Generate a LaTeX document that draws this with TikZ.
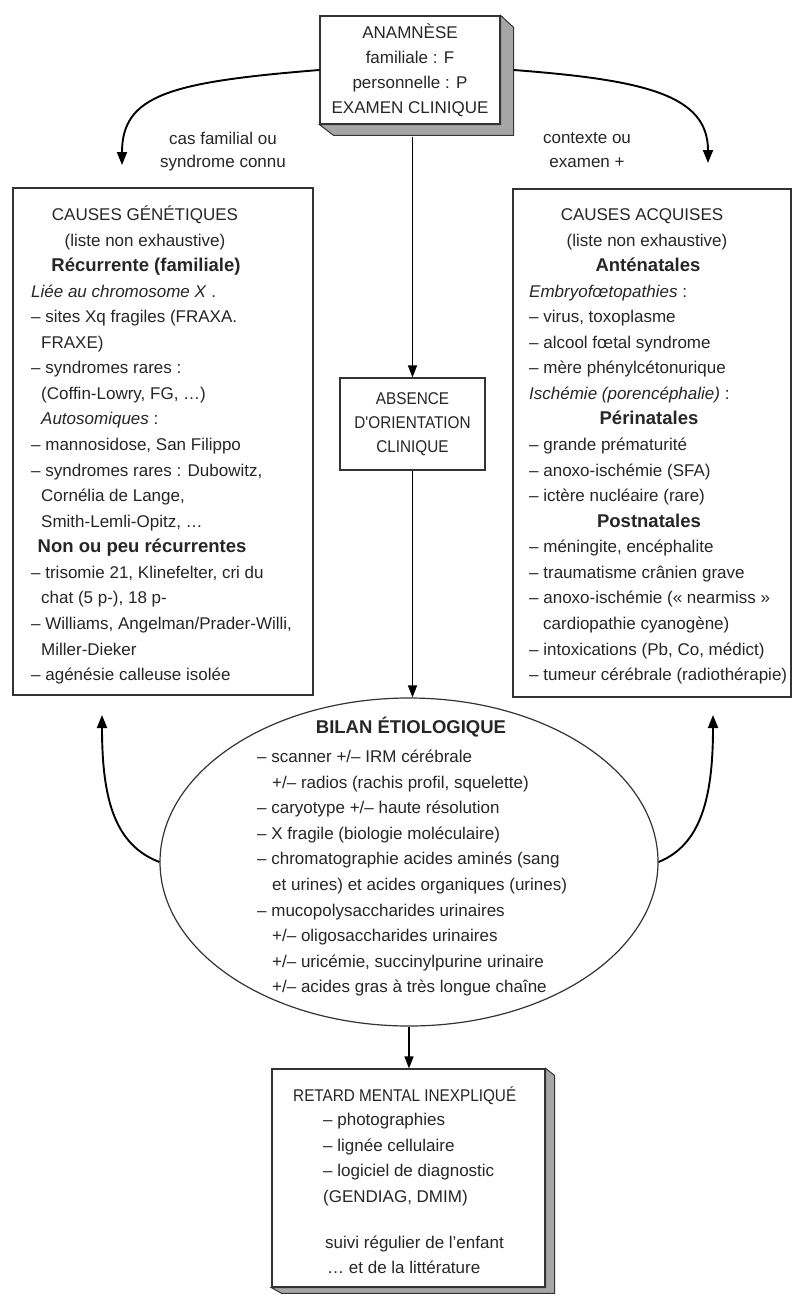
\documentclass[tikz,border=0pt]{standalone}
\usepackage{fontspec}
\setmainfont{Liberation Sans}
\newfontfamily\narrowfont{Liberation Sans}[FakeStretch=0.9]
\usetikzlibrary{arrows.meta,shapes.geometric}
\newcommand\headline[1]{{\fontsize{18.5}{20}\selectfont\bfseries #1}}

\begin{document}
\begin{tikzpicture}[x=1pt,y=-1pt,
  txt/.style={inner sep=0pt, font=\fontsize{17}{20}\selectfont, text=black!85},
  frame/.style={draw=black!80, line width=1.4pt, fill=white, inner sep=0pt},
  face/.style={draw=black!80, line width=1.2pt, fill=white, inner sep=0pt},
  side/.style={draw=black!80, line width=1pt, fill=black!35},
  link/.style={draw=black, line width=1.9pt, -{Triangle[length=13pt,width=10pt]}},
  flow/.style={draw=black, line width=1.5pt, -{Triangle[length=12pt,width=9pt]}},
]
\useasboundingbox (0,0) rectangle (794,1295);
\fill[white] (0,0) rectangle (794,1295);

% ---------- top box: history and clinical examination ----------
\node[face, minimum width=180pt, minimum height=108pt, align=center,
      font=\fontsize{17}{25}\selectfont, text=black!85] (ana) at (410,70)
  {ANAMNÈSE\\familiale : F\\personnelle : P\\EXAMEN CLINIQUE};
\filldraw[side] (ana.north east) -- ++(13,12) -- ++(0,108) -- ++(-180,0)
  -- (ana.south west) -- (ana.south east) -- cycle;

% ---------- the two cause boxes ----------
\node[frame, minimum width=300pt, minimum height=507pt] (gen) at (163,441.5) {};
\node[frame, minimum width=278pt, minimum height=508pt] (acq) at (652,443) {};

\foreach \a/\xx/\k/\s in {
  base/145/0/{CAUSES GÉNÉTIQUES},
  base/145/1/{(liste non exhaustive)},
  base/146/2/{\headline{Récurrente (familiale)}},
  base west/31/3/{\textit{Liée au chromosome X} .},
  base west/31/4/{– sites Xq fragiles (FRAXA.},
  base west/41/5/{FRAXE)},
  base west/31/6/{– syndromes rares :},
  base west/41/7/{(Coffin-Lowry, FG, …)},
  base west/41/8/{\textit{Autosomiques} :},
  base west/31/9/{– mannosidose, San Filippo},
  base west/31/10/{– syndromes rares : Dubowitz,},
  base west/41/11/{Cornélia de Lange,},
  base west/41/12/{Smith-Lemli-Opitz, …},
  base/142/13/{\headline{Non ou peu récurrentes}},
  base west/31/14/{– trisomie 21, Klinefelter, cri du},
  base west/41/15/{chat (5 p-), 18 p-},
  base west/31/16/{– Williams, Angelman/Prader-Willi,},
  base west/41/17/{Miller-Dieker},
  base west/31/18/{– agénésie calleuse isolée}}
  \node[txt, anchor=\a] (g\k) at (\xx, 220.5+25.56*\k) {\s};

\foreach \a/\xx/\k/\s in {
  base/642/0/{CAUSES ACQUISES},
  base/647/1/{(liste non exhaustive)},
  base/648/2/{\headline{Anténatales}},
  base west/529/3/{\textit{Embryofœtopathies} :},
  base west/529/4/{– virus, toxoplasme},
  base west/529/5/{– alcool fœtal syndrome},
  base west/529/6/{– mère phénylcétonurique},
  base west/529/7/{\textit{Ischémie (porencéphalie)} :},
  base/649/8/{\headline{Périnatales}},
  base west/529/9/{– grande prématurité},
  base west/529/10/{– anoxo-ischémie (SFA)},
  base west/529/11/{– ictère nucléaire (rare)},
  base/649/12/{\headline{Postnatales}},
  base west/529/13/{– méningite, encéphalite},
  base west/529/14/{– traumatisme crânien grave},
  base west/529/15/{– anoxo-ischémie (« nearmiss »},
  base west/543/16/{cardiopathie cyanogène)},
  base west/529/17/{– intoxications (Pb, Co, médict)},
  base west/529/18/{– tumeur cérébrale (radiothérapie)}}
  \node[txt, anchor=\a] (q\k) at (\xx, 220.5+25.56*\k) {\s};

% ---------- no clinical orientation ----------
\node[face, minimum width=145pt, minimum height=92pt, align=center,
      font=\narrowfont\fontsize{17}{24}\selectfont, text=black!85] (abs) at (412.5,424)
  {ABSENCE\\D'ORIENTATION\\CLINIQUE};

% ---------- aetiological work-up ----------
\node[ellipse, draw=black!80, line width=1.2pt, fill=white, inner sep=0pt,
      minimum width=498pt, minimum height=328pt] (bilan) at (409,862) {};
\node[txt, anchor=base] (bt) at (411,733.5) {\headline{BILAN ÉTIOLOGIQUE}};
\foreach \xx/\k/\s in {
  257/0/{– scanner +/– IRM cérébrale},
  272/1/{+/– radios (rachis profil, squelette)},
  257/2/{– caryotype +/– haute résolution},
  257/3/{– X fragile (biologie moléculaire)},
  257/4/{– chromatographie acides aminés (sang},
  272/5/{et urines) et acides organiques (urines)},
  257/6/{– mucopolysaccharides urinaires},
  272/7/{+/– oligosaccharides urinaires},
  272/8/{+/– uricémie, succinylpurine urinaire},
  272/9/{+/– acides gras à très longue chaîne}}
  \node[txt, anchor=base west] (b\k) at (\xx, 762.5+25.6*\k) {\s};

% ---------- unexplained mental retardation ----------
\node[face, minimum width=273pt, minimum height=218pt] (ret) at (408.5,1178) {};
\filldraw[side] (ret.north east) -- ++(9,7) -- ++(0,218) -- ++(-273,0)
  -- (ret.south west) -- (ret.south east) -- cycle;
\node[txt, anchor=base west, font=\narrowfont\fontsize{17}{20}\selectfont] (r0) at (293,1101) {RETARD MENTAL INEXPLIQUÉ};
\foreach \xx/\yy/\k/\s in {
  323/1125.5/1/{– photographies},
  323/1151/2/{– lignée cellulaire},
  323/1176.5/3/{– logiciel de diagnostic},
  323/1202/4/{(GENDIAG, DMIM)},
  325/1248/5/{suivi régulier de l'enfant},
  327/1273/6/{… et de la littérature}}
  \node[txt, anchor=base west] (r\k) at (\xx,\yy) {\s};

% ---------- branch labels ----------
\node[txt] (l1) at (223,138) {cas familial ou};
\node[txt] (l2) at (223,163) {syndrome connu};
\node[txt] (l3) at (587,138) {contexte ou};
\node[txt] (l4) at (587,163) {examen +};

% ---------- connectors ----------
\coordinate (gtip) at (122,165);
\coordinate (atip) at (708,163);
\coordinate (gback) at (102,715);
\coordinate (aback) at (713,715);

\draw[link] (ana.west) .. controls (170,82) and (122,95) .. (gtip);
\draw[link] ([xshift=13pt]ana.east) .. controls (645,80) and (708,95) .. (atip);
\draw[flow, shorten <=12pt] (abs.north |- ana.south) -- (abs.north);
\draw[flow] (abs.south) -- (abs.south |- bilan.north);
\draw[link] (bilan.west) .. controls (115,845) and (102,800) .. (gback);
\draw[link] (bilan.east) .. controls (700,845) and (713,800) .. (aback);
\draw[flow] (bilan.south) -- (bilan.south |- ret.north);
\end{tikzpicture}
\end{document}
